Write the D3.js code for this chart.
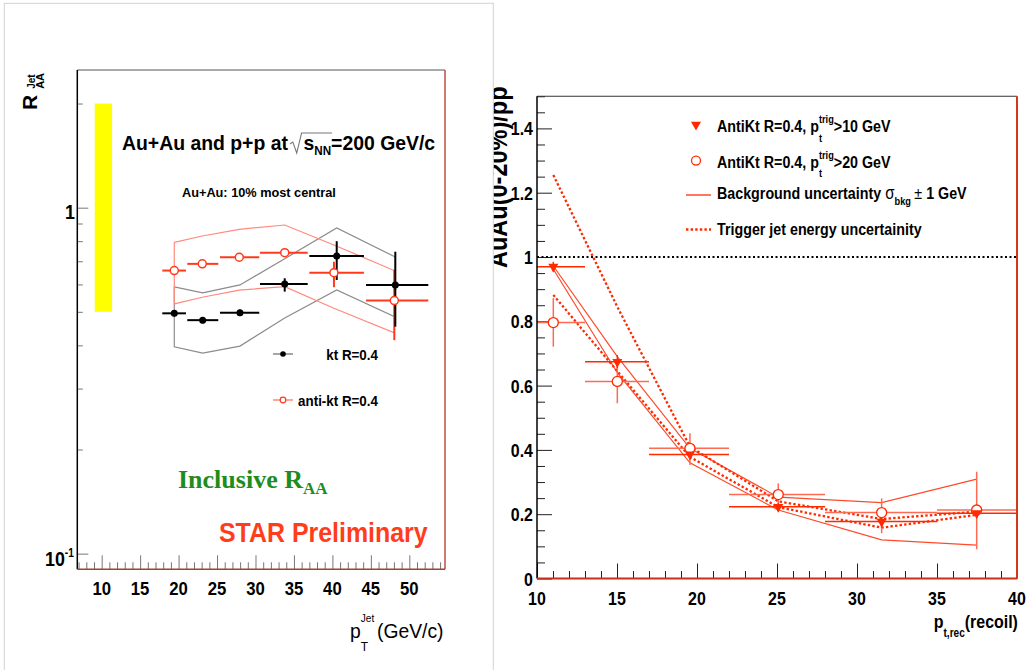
<!DOCTYPE html>
<html><head><meta charset="utf-8">
<script src="https://cdn.jsdelivr.net/npm/d3@7"></script>
<style>body{margin:0;background:#fff}svg{display:block}text{white-space:pre}</style>
</head><body><script>
// ---------------- DATA : left panel (inclusive jet R_AA) ----------------
const ktPt    = [19.44, 23.13, 27.98, 33.80, 40.56, 48.18];
const akPt    = [19.44, 23.08, 27.89, 33.80, 40.20, 48.05];
const jetBinLo= [17.88, 21.13, 25.38, 30.58, 37.00, 44.37];
const jetBinHi= [20.96, 25.16, 30.49, 36.79, 44.10, 52.47];
const ktRaa   = [0.495, 0.473, 0.497, 0.602, 0.725, 0.598];
const ktErrLo = [0.485, 0.463, 0.486, 0.572, 0.618, 0.453];
const ktErrHi = [0.505, 0.483, 0.507, 0.625, 0.800, 0.746];
const ktSysHi = [0.590, 0.567, 0.598, 0.712, 0.874, 0.720];
const ktSysLo = [0.396, 0.380, 0.398, 0.480, 0.578, 0.483];
const akRaa   = [0.658, 0.688, 0.719, 0.741, 0.649, 0.539];
const akErrLo = [0.648, 0.678, 0.709, 0.725, 0.589, 0.414];
const akErrHi = [0.668, 0.698, 0.729, 0.758, 0.698, 0.661];
const akSysHi = [0.794, 0.828, 0.866, 0.891, 0.780, 0.658];
const akSysLo = [0.527, 0.551, 0.578, 0.591, 0.512, 0.435];
const normUncPt  = [9.1, 11.35];
const normUncRaa = [0.5, 2.0];
const leftXTicks = [10, 15, 20, 25, 30, 35, 40, 45, 50];
const leftYMajor = [0.1, 1];
const leftYMinor = [0.2, 0.3, 0.4, 0.5, 0.6, 0.7, 0.8, 0.9, 2];

// ---------------- DATA : right panel (recoil jet AuAu/pp) ----------------
const recBinLo = [10, 13, 17, 22, 28, 35];
const recBinHi = [13, 17, 22, 28, 35, 40];
const recPt    = [11.02, 15.02, 19.56, 25.08, 31.54, 37.48];
const trig10   = [0.970, 0.674, 0.386, 0.223, 0.177, 0.203];
const trig10Lo = [0.955, 0.655, 0.370, 0.210, 0.158, 0.190];
const trig10Hi = [0.985, 0.695, 0.400, 0.235, 0.196, 0.215];
const trig20   = [0.796, 0.613, 0.405, 0.261, 0.205, 0.213];
const trig20Lo = [0.721, 0.545, 0.353, 0.208, 0.141, 0.091];
const trig20Hi = [0.872, 0.659, 0.452, 0.296, 0.249, 0.332];
const bkgHi    = [0.972, 0.690, 0.405, 0.253, 0.236, 0.309];
const bkgLo    = [0.962, 0.640, 0.360, 0.213, 0.120, 0.104];
const jesHi    = [1.255, 0.845, 0.410, 0.240, 0.185, 0.208];
const jesLo    = [0.882, 0.645, 0.378, 0.222, 0.158, 0.198];
const rightXTicks = [10, 15, 20, 25, 30, 35, 40];
const rightYTicks = [0, 0.2, 0.4, 0.6, 0.8, 1, 1.2, 1.4];
const rightYLabels = ['0', '0.2', '0.4', '0.6', '0.8', '1', '1.2', '1.4'];

// ---------------- SETUP ----------------
const W = 1028, H = 670;
const SANS = '"Liberation Sans", Arial, Helvetica, sans-serif';
const SERIF = '"Liberation Serif", "Times New Roman", serif';
const svg = d3.select('body').append('svg').attr('width', W).attr('height', H);
svg.append('rect').attr('width', W).attr('height', H).attr('fill', '#fff');

function rich(parent, x, y, segs, o = {}) {
  const g = parent.append('g');
  const inner = g.append('g');
  let cx = 0, lastStart = 0;
  const pos = [];
  segs.forEach(s => {
    if (s.gap) cx += s.gap;
    const start = s.stack ? lastStart : cx;
    const t = inner.append('text')
      .attr('x', start).attr('y', s.dy || 0)
      .attr('font-family', s.family || o.family || SANS)
      .attr('font-size', s.size || o.size || 16)
      .attr('font-weight', s.weight || o.weight || 'normal')
      .attr('fill', s.fill || o.fill || '#000')
      .text(s.t);
    const w = s.t ? t.node().getComputedTextLength() : 0;
    pos.push({ x0: start, w });
    if (s.stack) cx = Math.max(cx, start + w);
    else { lastStart = start; cx = start + w; }
  });
  const shift = o.anchor === 'end' ? -cx : o.anchor === 'middle' ? -cx / 2 : 0;
  inner.attr('transform', `translate(${shift},0)`);
  g.attr('transform', `translate(${x},${y})` + (o.rotate ? ` rotate(${o.rotate})` : '') + ` scale(${o.sx || 1},1)`);
  return { g, inner, pos, width: cx };
}
function tickAxis(parent, gen, tr, color, width) {
  const g = parent.append('g').attr('transform', tr).call(gen);
  g.select('.domain').remove();
  g.selectAll('.tick text').remove();
  g.selectAll('.tick line').attr('stroke', color).attr('stroke-width', width);
  return g;
}

// =============== RIGHT PANEL ===============
const R = { l: 537, r: 1017, t: 96.25, b: 578.5 };
const xR = d3.scaleLinear().domain([10, 40]).range([R.l, R.r]);
const yR = d3.scaleLinear().domain([0, 1.5]).range([R.b, R.t]);
const rp = svg.append('g');
const RED = '#ff2a00', RED2 = '#ff6a52', REDL = '#ff4a2a';

// ticks
const rxMinor = d3.range(11, 40).filter(v => v % 5 !== 0);
const ryMinor = d3.range(0, 31).map(i => i * 0.05).filter(v => Math.abs(v / 0.2 - Math.round(v / 0.2)) > 1e-6);
tickAxis(rp, d3.axisTop(xR).tickValues(rightXTicks).tickSize(15), `translate(0,${R.b})`, '#222', 1);
tickAxis(rp, d3.axisTop(xR).tickValues(rxMinor).tickSize(7.5), `translate(0,${R.b})`, '#222', 1);
tickAxis(rp, d3.axisRight(yR).tickValues(rightYTicks).tickSize(15), `translate(${R.l},0)`, '#222', 1);
tickAxis(rp, d3.axisRight(yR).tickValues(ryMinor).tickSize(8), `translate(${R.l},0)`, '#222', 1);

// reference line at 1
rp.append('line').attr('x1', R.l).attr('x2', R.r).attr('y1', yR(1)).attr('y2', yR(1))
  .attr('stroke', '#000').attr('stroke-width', 2).attr('stroke-dasharray', '2,2.5');

// uncertainty lines
const lineR = d3.line().x(d => xR(d[0])).y(d => yR(d[1]));
[bkgHi, bkgLo].forEach(arr => {
  rp.append('path').attr('d', lineR(recPt.map((p, i) => [p, arr[i]])))
    .attr('fill', 'none').attr('stroke', REDL).attr('stroke-width', 1.2);
});
[jesHi, jesLo].forEach(arr => {
  rp.append('path').attr('d', lineR(recPt.map((p, i) => [p, arr[i]])))
    .attr('fill', 'none').attr('stroke', RED).attr('stroke-width', 2.3).attr('stroke-dasharray', '2.4,2.2');
});

// error bars
recPt.forEach((p, i) => {
  rp.append('line').attr('x1', xR(recBinLo[i])).attr('x2', xR(recBinHi[i])).attr('y1', yR(trig20[i])).attr('y2', yR(trig20[i])).attr('stroke', RED2).attr('stroke-width', 1.5);
  rp.append('line').attr('x1', xR(p)).attr('x2', xR(p)).attr('y1', yR(trig20Lo[i])).attr('y2', yR(trig20Hi[i])).attr('stroke', RED2).attr('stroke-width', 1.5);
  rp.append('line').attr('x1', xR(recBinLo[i])).attr('x2', xR(recBinHi[i])).attr('y1', yR(trig10[i])).attr('y2', yR(trig10[i])).attr('stroke', RED).attr('stroke-width', 1.5);
  rp.append('line').attr('x1', xR(p)).attr('x2', xR(p)).attr('y1', yR(trig10Lo[i])).attr('y2', yR(trig10Hi[i])).attr('stroke', RED).attr('stroke-width', 1.5);
});
const triPath = d3.symbol(d3.symbolTriangle, 44)();
recPt.forEach((p, i) => {
  rp.append('circle').attr('cx', xR(p)).attr('cy', yR(trig20[i])).attr('r', 5).attr('fill', '#fff').attr('stroke', RED).attr('stroke-width', 1.3);
  rp.append('path').attr('d', triPath).attr('transform', `translate(${xR(p)},${yR(trig10[i])}) rotate(180)`).attr('fill', RED);
});

// frame
rp.append('line').attr('x1', R.l).attr('x2', R.r).attr('y1', R.t).attr('y2', R.t).attr('stroke', '#333').attr('stroke-width', 1);
rp.append('line').attr('x1', R.l).attr('x2', R.l).attr('y1', R.t).attr('y2', R.b).attr('stroke', '#000').attr('stroke-width', 1.5);
rp.append('line').attr('x1', R.r).attr('x2', R.r).attr('y1', R.t).attr('y2', R.b).attr('stroke', '#d4381c').attr('stroke-width', 2);
rp.append('line').attr('x1', R.l).attr('x2', R.r).attr('y1', R.b).attr('y2', R.b).attr('stroke', '#c8301a').attr('stroke-width', 2);

// tick labels
rightXTicks.forEach(v => rich(rp, xR(v), 605, [{ t: String(v) }], { size: 19, weight: 'bold', sx: 0.84, anchor: 'middle' }));
rightYTicks.forEach((v, i) => rich(rp, 533, yR(v) + 7, [{ t: rightYLabels[i] }], { size: 19, weight: 'bold', sx: 0.84, anchor: 'end' }));
rich(rp, 1018, 628, [{ t: 'p' }, { t: 't,rec', size: 12, dy: 9 }, { t: '(recoil)' }], { size: 19, weight: 'bold', sx: 0.84, anchor: 'end' });

// legend
rp.append('path').attr('d', triPath).attr('transform', 'translate(696,124.6) rotate(180)').attr('fill', RED);
rp.append('circle').attr('cx', 696).attr('cy', 160.6).attr('r', 4.5).attr('fill', '#fff').attr('stroke', RED).attr('stroke-width', 1.3);
rp.append('line').attr('x1', 686).attr('x2', 711).attr('y1', 195).attr('y2', 195).attr('stroke', REDL).attr('stroke-width', 1.5);
rp.append('line').attr('x1', 686).attr('x2', 711).attr('y1', 229.5).attr('y2', 229.5).attr('stroke', RED).attr('stroke-width', 2.3).attr('stroke-dasharray', '2.4,2.2');
rich(rp, 717, 132, [{ t: 'AntiKt R=0.4, p' }, { t: 't', size: 11, dy: 10 }, { t: 'trig', size: 11, dy: -9, stack: true }, { t: '>10 GeV' }], { size: 17, weight: 'bold', sx: 0.84 });
rich(rp, 717, 167.5, [{ t: 'AntiKt R=0.4, p' }, { t: 't', size: 11, dy: 10 }, { t: 'trig', size: 11, dy: -9, stack: true }, { t: '>20 GeV' }], { size: 17, weight: 'bold', sx: 0.84 });
rich(rp, 717, 198.5, [{ t: 'Background uncertainty ' }, { t: 'σ', weight: 'normal', size: 18 }, { t: 'bkg', size: 11, dy: 6 }, { t: '±', weight: 'normal', gap: 4 }, { t: ' 1 GeV' }], { size: 17, weight: 'bold', sx: 0.84 });
rich(rp, 717, 234.5, [{ t: 'Trigger jet energy uncertainity' }], { size: 17, weight: 'bold', sx: 0.84 });

// y title (partly hidden behind left card)
rich(rp, 507, 268, [{ t: 'AuAu(0-20%)/pp' }], { size: 28, weight: 'bold', sx: 0.84, rotate: -90 });

// =============== LEFT CARD ===============
svg.append('rect').attr('x', 4.3).attr('y', 3.3).attr('width', 489).attr('height', 700)
  .attr('fill', '#fff').attr('stroke', '#d2d2d2').attr('stroke-width', 1);

// =============== LEFT PANEL ===============
const L = { l: 77.3, r: 445, t: 70, b: 569.3 };
const xL = d3.scaleLinear().domain([6.83, 54.64]).range([L.l, L.r]);
const yL = d3.scaleLog().domain([0.0901, 2.5]).range([L.b, L.t]);
const lp = svg.append('g');
const LRED = '#ff3a1a', LBAND = '#ff8a7e', GBAND = '#8c8c8c';

// normalisation box
lp.append('rect').attr('x', xL(normUncPt[0])).attr('width', xL(normUncPt[1]) - xL(normUncPt[0]))
  .attr('y', yL(normUncRaa[1])).attr('height', yL(normUncRaa[0]) - yL(normUncRaa[1])).attr('fill', '#ffff00');

// ticks
const lxMinor = d3.range(7, 55).filter(v => v % 5 !== 0);
tickAxis(lp, d3.axisTop(xL).tickValues(leftXTicks).tickSize(14), `translate(0,${L.b})`, '#777', 1);
tickAxis(lp, d3.axisTop(xL).tickValues(lxMinor).tickSize(7), `translate(0,${L.b})`, '#777', 1);
tickAxis(lp, d3.axisRight(yL).tickValues(leftYMajor).tickSize(11), `translate(${L.l},0)`, '#777', 1);
tickAxis(lp, d3.axisRight(yL).tickValues(leftYMinor).tickSize(5.5), `translate(${L.l},0)`, '#777', 1);

// systematic bands
function band(xs, hi, lo, color) {
  const pts = xs.map((x, i) => [xL(x), yL(hi[i])]).concat(xs.map((x, i) => [xL(x), yL(lo[i])]).reverse());
  lp.append('path').attr('d', d3.line()(pts) + 'Z').attr('fill', 'none').attr('stroke', color).attr('stroke-width', 1.2);
}
band(ktPt, ktSysHi, ktSysLo, GBAND);
band(akPt, akSysHi, akSysLo, LBAND);

// error bars + markers
function series(xs, ys, lo, hi, color) {
  xs.forEach((x, i) => {
    lp.append('line').attr('x1', xL(jetBinLo[i])).attr('x2', xL(jetBinHi[i])).attr('y1', yL(ys[i])).attr('y2', yL(ys[i])).attr('stroke', color).attr('stroke-width', 2);
    lp.append('line').attr('x1', xL(x)).attr('x2', xL(x)).attr('y1', yL(lo[i])).attr('y2', yL(hi[i])).attr('stroke', color).attr('stroke-width', 2);
  });
}
series(akPt, akRaa, akErrLo, akErrHi, LRED);
series(ktPt, ktRaa, ktErrLo, ktErrHi, '#000');
akPt.forEach((x, i) => lp.append('circle').attr('cx', xL(x)).attr('cy', yL(akRaa[i])).attr('r', 4).attr('fill', '#fff').attr('stroke', LRED).attr('stroke-width', 1.5));
ktPt.forEach((x, i) => lp.append('circle').attr('cx', xL(x)).attr('cy', yL(ktRaa[i])).attr('r', 3.5).attr('fill', '#000'));

// frame
lp.append('line').attr('x1', L.l).attr('x2', L.r).attr('y1', L.t).attr('y2', L.t).attr('stroke', '#555').attr('stroke-width', 1);
lp.append('line').attr('x1', L.l).attr('x2', L.l).attr('y1', L.t).attr('y2', L.b).attr('stroke', '#000').attr('stroke-width', 1.5);
lp.append('line').attr('x1', L.r).attr('x2', L.r).attr('y1', L.t).attr('y2', L.b).attr('stroke', '#b8503f').attr('stroke-width', 1.5);
lp.append('line').attr('x1', L.l).attr('x2', L.r).attr('y1', L.b).attr('y2', L.b).attr('stroke', '#9a4434').attr('stroke-width', 1.5);

// tick labels
leftXTicks.forEach(v => rich(lp, xL(v), 595, [{ t: String(v) }], { size: 19, weight: 'bold', sx: 0.88, anchor: 'middle' }));
rich(lp, 75, yL(1) + 11.5, [{ t: '1' }], { size: 21, weight: 'bold', sx: 0.85, anchor: 'end' });
rich(lp, 45, yL(0.1) + 12, [{ t: '10' }, { t: '-1', size: 12, dy: -9 }], { size: 21, weight: 'bold', sx: 0.85 });

// axis titles
rich(lp, 37, 110, [{ t: 'R' }, { t: 'Jet', size: 10, dy: -2, gap: 6 }, { t: 'AA', size: 11, dy: 7, stack: true }], { size: 21, weight: 'bold', rotate: -90 });
rich(lp, 350, 638, [{ t: 'p' }, { t: 'T', size: 13, dy: 13 }, { t: 'Jet', size: 11, dy: -16, stack: true }, { t: '(GeV/c)', gap: 3 }], { size: 21, weight: 'normal', sx: 0.92 });

// texts
const ttl = rich(lp, 122, 150, [{ t: 'Au+Au and p+p at' }, { t: 's', gap: 16 }, { t: 'NN', size: 12, dy: 5 }, { t: '=200 GeV/c' }], { size: 20, weight: 'bold', sx: 0.97 });
{
  const rs = ttl.pos[0].x0 + ttl.pos[0].w + 2;
  const ne = ttl.pos[2].x0 + ttl.pos[2].w + 1;
  ttl.inner.append('path').attr('d', `M${rs},-6 L${rs + 3},-8 L${rs + 7},3 L${rs + 12},-17 L${ne},-17`)
    .attr('fill', 'none').attr('stroke', '#777').attr('stroke-width', 1.1);
}
rich(lp, 182, 197, [{ t: 'Au+Au: 10% most central' }], { size: 13, weight: 'bold', sx: 0.98 });

// legend
lp.append('line').attr('x1', 273).attr('x2', 293).attr('y1', 354).attr('y2', 354).attr('stroke', '#888').attr('stroke-width', 1.5);
lp.append('circle').attr('cx', 283).attr('cy', 354).attr('r', 2.8).attr('fill', '#000');
lp.append('line').attr('x1', 273).attr('x2', 293).attr('y1', 400).attr('y2', 400).attr('stroke', LBAND).attr('stroke-width', 1.5);
lp.append('circle').attr('cx', 283).attr('cy', 400).attr('r', 2.8).attr('fill', '#fff').attr('stroke', LRED).attr('stroke-width', 1.2);
rich(lp, 378, 360, [{ t: 'kt R=0.4' }], { size: 14, weight: 'bold', sx: 0.955, anchor: 'end' });
rich(lp, 378, 406, [{ t: 'anti-kt R=0.4' }], { size: 14, weight: 'bold', sx: 0.955, anchor: 'end' });

rich(lp, 178, 488, [{ t: 'Inclusive R' }, { t: 'AA', size: 17, dy: 6 }], { size: 26, weight: 'bold', family: SERIF, fill: '#1e8c1e' });
rich(lp, 219, 542, [{ t: 'STAR Preliminary' }], { size: 28, weight: 'bold', sx: 0.89, fill: '#ff3d1a' });
</script></body></html>
